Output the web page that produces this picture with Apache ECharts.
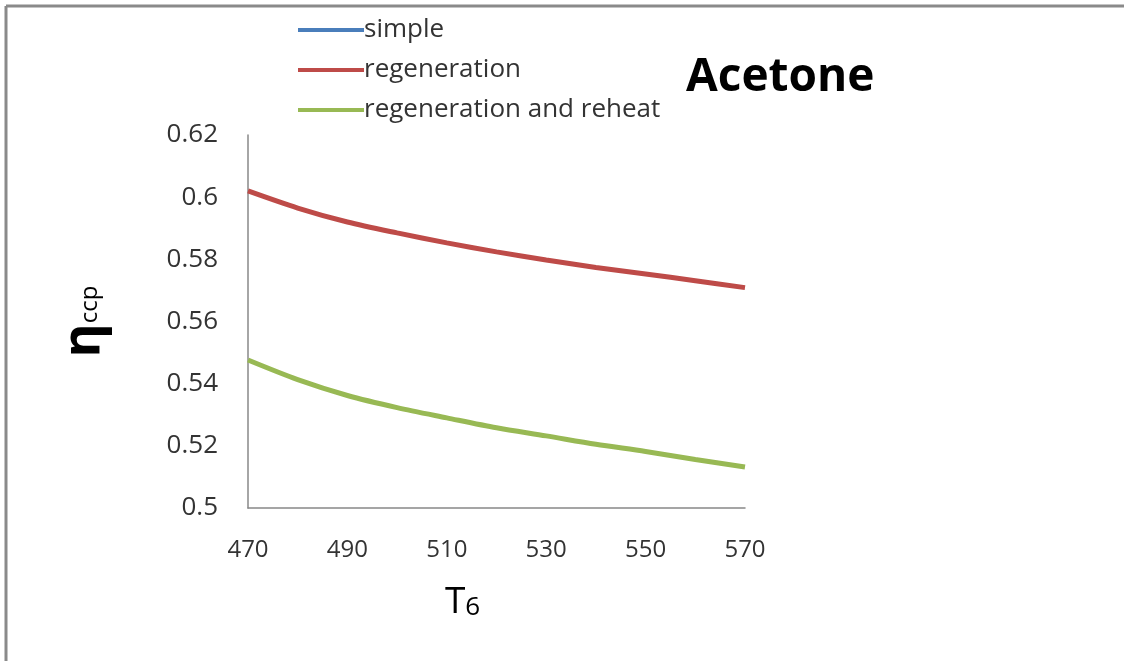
<!DOCTYPE html>
<html>
<head>
<meta charset="utf-8">
<script src="https://cdn.jsdelivr.net/npm/echarts@6/dist/echarts.min.js"></script>
<style>
  html, body { margin: 0; padding: 0; background: #fff; }
  #chart { width: 1130px; height: 661px; }
</style>
</head>
<body>
<div id="chart"></div>
<script>
// Turbine inlet temperature T6
const temps = [470, 480, 490, 500, 510, 520, 530, 540, 550, 560, 570];
// Combined cycle efficiency per configuration
const simple = [];
const regeneration = [0.602, 0.5965, 0.592, 0.5885, 0.5853, 0.5824, 0.5798, 0.5774, 0.5753, 0.5731, 0.5709];
const regenReheat = [0.5476, 0.5413, 0.5362, 0.5323, 0.5290, 0.5258, 0.5232, 0.5205, 0.5182, 0.5156, 0.5132];
const seriesNames = ['simple', 'regeneration', 'regeneration and reheat'];
const xTicks = [470, 490, 510, 530, 550, 570];
const yTicks = [0.5, 0.52, 0.54, 0.56, 0.58, 0.6, 0.62];

const font = '"Open Sans", Lato, sans-serif';
const pairs = vals => vals.map((v, i) => [temps[i], v]);

const chart = echarts.init(document.getElementById('chart'), null, { renderer: 'canvas' });
chart.setOption({
  animation: false,
  backgroundColor: '#fff',
  textStyle: { fontFamily: font },
  grid: { left: 248, top: 135, right: 385, bottom: 153, containLabel: false },
  title: {
    text: 'Acetone',
    left: 681, top: 50,
    textStyle: { fontFamily: font, fontSize: 46, fontWeight: 'bold', color: '#000' }
  },
  legend: {
    orient: 'vertical',
    left: 293, top: 12,
    itemWidth: 66, itemHeight: 4, itemGap: 14,
    icon: 'rect',
    textStyle: { fontFamily: font, fontSize: 26, color: '#333', padding: [0, 0, 0, -5] },
    data: seriesNames
  },
  xAxis: {
    type: 'value',
    min: xTicks[0], max: xTicks[xTicks.length - 1], interval: 20,
    name: '{t|T}{s|6}',
    nameLocation: 'middle', nameGap: 76,
    nameTextStyle: {
      padding: [0, 68, 0, 0],
      rich: {
        t: { fontFamily: font, fontSize: 37, color: '#000' },
        s: { fontFamily: font, fontSize: 26, color: '#000', padding: [10, 0, 0, 0] }
      }
    },
    axisLine: { show: true, lineStyle: { color: '#888', width: 1.5 } },
    axisTick: { show: false },
    splitLine: { show: false },
    axisLabel: { fontFamily: font, fontSize: 24, color: '#333', margin: 30 }
  },
  yAxis: {
    type: 'value',
    min: yTicks[0], max: yTicks[yTicks.length - 1], interval: 0.02,
    name: '{e|η}{s|ccp}',
    nameLocation: 'middle', nameGap: 138, nameRotate: 90,
    nameTextStyle: {
      rich: {
        e: { fontFamily: font, fontSize: 52, fontWeight: 'bold', color: '#000' },
        s: { fontFamily: font, fontSize: 24, color: '#000', padding: [12, 0, 0, 0] }
      }
    },
    axisLine: { show: true, lineStyle: { color: '#888', width: 1.5 } },
    axisTick: { show: false },
    splitLine: { show: false },
    axisLabel: {
      fontFamily: font, fontSize: 26, color: '#333', margin: 30,
      formatter: v => String(Math.round(v * 100) / 100)
    }
  },
  series: [
    { name: seriesNames[0], type: 'line', data: pairs(simple), showSymbol: false,
      color: '#4a7ebb', lineStyle: { width: 5 } },
    { name: seriesNames[1], type: 'line', data: pairs(regeneration), showSymbol: false, smooth: 0.3,
      color: '#be4b48', lineStyle: { width: 5 } },
    { name: seriesNames[2], type: 'line', data: pairs(regenReheat), showSymbol: false, smooth: 0.3,
      color: '#98b954', lineStyle: { width: 5 } }
  ],
  graphic: [
    { type: 'line', shape: { x1: 6, y1: 6, x2: 1124, y2: 6 }, style: { stroke: '#8a8a8a', lineWidth: 3 } },
    { type: 'line', shape: { x1: 6, y1: 6, x2: 6, y2: 661 }, style: { stroke: '#8a8a8a', lineWidth: 3 } }
  ]
});
</script>
</body>
</html>
